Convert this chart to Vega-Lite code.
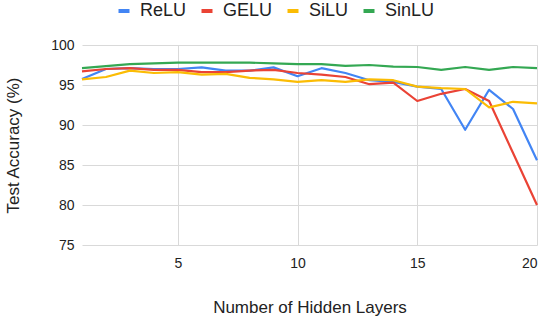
{
  "$schema": "https://vega.github.io/schema/vega-lite/v6.json",
  "autosize": "none",
  "width": 455,
  "height": 200,
  "padding": {"left": 82, "top": 45, "right": 13, "bottom": 79},
  "background": "white",
  "config": {
    "view": {"stroke": null},
    "font": "Liberation Sans",
    "axis": {"gridColor": "#d9d9d9", "gridWidth": 1, "domain": false, "ticks": false, "labelColor": "#222222", "titleColor": "#222222", "labelFontSize": 14, "titleFontSize": 17, "titleFontWeight": "normal", "labelFont": "Liberation Sans", "titleFont": "Liberation Sans"}
  },
  "data": {
    "values": [
      {"layers": 1, "act": "ReLU", "acc": 95.75},
      {"layers": 2, "act": "ReLU", "acc": 97.0},
      {"layers": 3, "act": "ReLU", "acc": 97.1},
      {"layers": 4, "act": "ReLU", "acc": 97.0},
      {"layers": 5, "act": "ReLU", "acc": 97.0},
      {"layers": 6, "act": "ReLU", "acc": 97.2},
      {"layers": 7, "act": "ReLU", "acc": 96.8},
      {"layers": 8, "act": "ReLU", "acc": 96.8},
      {"layers": 9, "act": "ReLU", "acc": 97.2},
      {"layers": 10, "act": "ReLU", "acc": 96.1},
      {"layers": 11, "act": "ReLU", "acc": 97.1},
      {"layers": 12, "act": "ReLU", "acc": 96.5},
      {"layers": 13, "act": "ReLU", "acc": 95.6},
      {"layers": 14, "act": "ReLU", "acc": 95.4},
      {"layers": 15, "act": "ReLU", "acc": 94.8},
      {"layers": 16, "act": "ReLU", "acc": 94.5},
      {"layers": 17, "act": "ReLU", "acc": 89.4},
      {"layers": 18, "act": "ReLU", "acc": 94.4},
      {"layers": 19, "act": "ReLU", "acc": 92.0},
      {"layers": 20, "act": "ReLU", "acc": 85.6},
      {"layers": 1, "act": "GELU", "acc": 96.7},
      {"layers": 2, "act": "GELU", "acc": 97.0},
      {"layers": 3, "act": "GELU", "acc": 97.1},
      {"layers": 4, "act": "GELU", "acc": 96.9},
      {"layers": 5, "act": "GELU", "acc": 96.9},
      {"layers": 6, "act": "GELU", "acc": 96.6},
      {"layers": 7, "act": "GELU", "acc": 96.6},
      {"layers": 8, "act": "GELU", "acc": 96.8},
      {"layers": 9, "act": "GELU", "acc": 96.9},
      {"layers": 10, "act": "GELU", "acc": 96.5},
      {"layers": 11, "act": "GELU", "acc": 96.3},
      {"layers": 12, "act": "GELU", "acc": 96.0},
      {"layers": 13, "act": "GELU", "acc": 95.1},
      {"layers": 14, "act": "GELU", "acc": 95.3},
      {"layers": 15, "act": "GELU", "acc": 93.0},
      {"layers": 16, "act": "GELU", "acc": 93.9},
      {"layers": 17, "act": "GELU", "acc": 94.5},
      {"layers": 18, "act": "GELU", "acc": 93.0},
      {"layers": 19, "act": "GELU", "acc": 86.5},
      {"layers": 20, "act": "GELU", "acc": 80.0},
      {"layers": 1, "act": "SiLU", "acc": 95.7},
      {"layers": 2, "act": "SiLU", "acc": 96.0},
      {"layers": 3, "act": "SiLU", "acc": 96.8},
      {"layers": 4, "act": "SiLU", "acc": 96.5},
      {"layers": 5, "act": "SiLU", "acc": 96.6},
      {"layers": 6, "act": "SiLU", "acc": 96.3},
      {"layers": 7, "act": "SiLU", "acc": 96.4},
      {"layers": 8, "act": "SiLU", "acc": 95.9},
      {"layers": 9, "act": "SiLU", "acc": 95.7},
      {"layers": 10, "act": "SiLU", "acc": 95.4},
      {"layers": 11, "act": "SiLU", "acc": 95.6},
      {"layers": 12, "act": "SiLU", "acc": 95.4},
      {"layers": 13, "act": "SiLU", "acc": 95.7},
      {"layers": 14, "act": "SiLU", "acc": 95.6},
      {"layers": 15, "act": "SiLU", "acc": 94.8},
      {"layers": 16, "act": "SiLU", "acc": 94.6},
      {"layers": 17, "act": "SiLU", "acc": 94.5},
      {"layers": 18, "act": "SiLU", "acc": 92.2},
      {"layers": 19, "act": "SiLU", "acc": 92.9},
      {"layers": 20, "act": "SiLU", "acc": 92.7},
      {"layers": 1, "act": "SinLU", "acc": 97.1},
      {"layers": 2, "act": "SinLU", "acc": 97.35},
      {"layers": 3, "act": "SinLU", "acc": 97.6},
      {"layers": 4, "act": "SinLU", "acc": 97.7},
      {"layers": 5, "act": "SinLU", "acc": 97.8},
      {"layers": 6, "act": "SinLU", "acc": 97.8},
      {"layers": 7, "act": "SinLU", "acc": 97.8},
      {"layers": 8, "act": "SinLU", "acc": 97.8},
      {"layers": 9, "act": "SinLU", "acc": 97.7},
      {"layers": 10, "act": "SinLU", "acc": 97.6},
      {"layers": 11, "act": "SinLU", "acc": 97.6},
      {"layers": 12, "act": "SinLU", "acc": 97.4},
      {"layers": 13, "act": "SinLU", "acc": 97.5},
      {"layers": 14, "act": "SinLU", "acc": 97.3},
      {"layers": 15, "act": "SinLU", "acc": 97.25},
      {"layers": 16, "act": "SinLU", "acc": 96.9},
      {"layers": 17, "act": "SinLU", "acc": 97.25},
      {"layers": 18, "act": "SinLU", "acc": 96.9},
      {"layers": 19, "act": "SinLU", "acc": 97.25},
      {"layers": 20, "act": "SinLU", "acc": 97.1}
    ]
  },
  "mark": {"type": "line", "strokeWidth": 2.2, "strokeJoin": "round"},
  "encoding": {
    "x": {
      "field": "layers", "type": "quantitative",
      "scale": {"domain": [1, 20], "nice": false, "zero": false},
      "axis": {"values": [5, 10, 15, 20], "title": "Number of Hidden Layers", "titlePadding": 29, "labelPadding": 11}
    },
    "y": {
      "field": "acc", "type": "quantitative",
      "scale": {"domain": [75, 100], "nice": false, "zero": false},
      "axis": {"values": [75, 80, 85, 90, 95, 100], "title": "Test Accuracy (%)", "titlePadding": 28, "labelPadding": 8}
    },
    "color": {
      "field": "act", "type": "nominal",
      "scale": {"domain": ["ReLU", "GELU", "SiLU", "SinLU"], "range": ["#4285F4", "#EA4335", "#FBBC04", "#34A853"]},
      "legend": {
        "orient": "none", "direction": "horizontal", "legendX": 33, "legendY": -43,
        "title": null, "labelFontSize": 18, "labelColor": "#222222", "labelFont": "Liberation Sans",
        "symbolType": "stroke", "symbolSize": 121, "symbolStrokeWidth": 4,
        "columnPadding": 6, "labelOffset": 7
      }
    }
  }
}
